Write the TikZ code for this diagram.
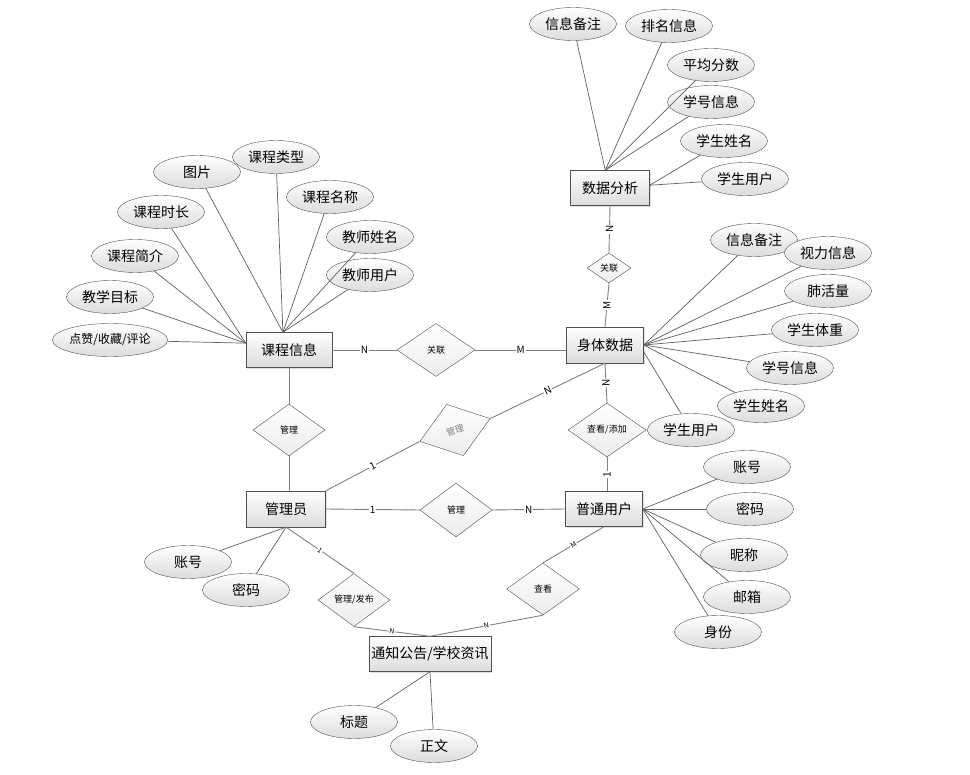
\documentclass[tikz,border=0pt]{standalone}
\usepackage{fontspec}
\setmainfont{Noto Sans CJK SC}
\usetikzlibrary{shapes.geometric,shadows}
\definecolor{EdgeGray}{RGB}{128,128,128}
\definecolor{AttrGray}{RGB}{95,95,95}
\definecolor{BorderGray}{RGB}{80,80,80}
\definecolor{ShadeGray}{RGB}{220,220,220}
\definecolor{DiamondGray}{RGB}{236,236,236}

\begin{document}
\begin{tikzpicture}[x=1pt,y=-1pt,
  entity/.style={draw=BorderGray,top color=white,bottom color=ShadeGray,
    minimum width=79pt,minimum height=35pt,inner sep=2pt,font=\fontsize{14}{16}\selectfont,
    drop shadow={shadow xshift=1.2pt,shadow yshift=-1.2pt,opacity=.25}},
  attr/.style={ellipse,draw=BorderGray,top color=white,bottom color=ShadeGray,
    minimum width=87pt,minimum height=33pt,inner sep=0pt,font=\fontsize{14}{16}\selectfont},
  rel/.style={diamond,draw=BorderGray,top color=white,bottom color=DiamondGray,
    minimum width=72pt,minimum height=53pt,inner sep=0pt,font=\fontsize{9}{10}\selectfont},
  link/.style={draw=EdgeGray,line width=0.9pt},
  attrlink/.style={draw=AttrGray,line width=0.7pt},
  card/.style={fill=white,inner sep=0.8pt,font=\fontsize{10}{10}\selectfont},
  smallcard/.style={card,font=\fontsize{7}{7}\selectfont}]
  \useasboundingbox (0,0) rectangle (970,775);

  % entities
  \node[entity] (sjfx) at (610,188) {数据分析};
  \node[entity,minimum width=86pt] (kcxx) at (289,350) {课程信息};
  \node[entity,minimum width=77pt,minimum height=36pt] (stsj) at (605,345) {身体数据};
  \node[entity,minimum height=36pt] (gly) at (286,509) {管理员};
  \node[entity,minimum width=77pt] (ptyh) at (604,509) {普通用户};
  \node[entity,minimum width=119pt] (tzgg) at (430,654) {通知公告/学校资讯};

  % relationships
  \node[rel,minimum width=44pt,minimum height=30pt] (glfx) at (609,268) {关联};
  \node[rel,minimum width=78pt] (glkc) at (436,350) {关联};
  \node[rel,minimum height=52pt] (glkg) at (289,430) {管理};
  \node[rel,minimum width=74pt,minimum height=54pt,rotate=18,text=gray] (glst) at (455,430) {管理};
  \node[rel,minimum height=54pt] (glpt) at (456,510) {管理};
  \node[rel,minimum width=78pt,minimum height=54pt] (cktj) at (607,430) {查看/添加};
  \node[rel] (glfb) at (354,600) {管理/发布};
  \node[rel,minimum width=73pt,minimum height=52pt] (ckgg) at (543,589) {查看};

  % attributes
  \node[attr] (fxbz) at (573,24) {信息备注};
  \node[attr] (fxpm) at (669,26) {排名信息};
  \node[attr] (fxpj) at (711,65) {平均分数};
  \node[attr] (fxxh) at (711,102) {学号信息};
  \node[attr] (fxxm) at (724,141) {学生姓名};
  \node[attr] (fxyh) at (745,179) {学生用户};

  \node[attr] (kctp) at (197,172) {图片};
  \node[attr] (kclx) at (276,157) {课程类型};
  \node[attr] (kcmc) at (330,197) {课程名称};
  \node[attr] (kcjx) at (370,237) {教师姓名};
  \node[attr] (kcjy) at (370,275) {教师用户};
  \node[attr] (kcsc) at (161,212) {课程时长};
  \node[attr] (kcjj) at (135,256) {课程简介};
  \node[attr] (kcmb) at (110,297) {教学目标};
  \node[attr,font=\fontsize{12}{14}\selectfont] (kcdz) at (110,340) {点赞/收藏/评论};

  \node[attr] (stbz) at (754,240) {信息备注};
  \node[attr] (stsl) at (828,253) {视力信息};
  \node[attr] (stfh) at (828,291) {肺活量};
  \node[attr] (sttz) at (815,330) {学生体重};
  \node[attr] (stxh) at (790,368) {学号信息};
  \node[attr] (stxm) at (761,406) {学生姓名};
  \node[attr] (styh) at (691,430) {学生用户};

  \node[attr] (glzh) at (188,562) {账号};
  \node[attr] (glmm) at (246,590) {密码};

  \node[attr] (ptzh) at (747,467) {账号};
  \node[attr] (ptmm) at (750,509) {密码};
  \node[attr] (ptnc) at (744,555) {昵称};
  \node[attr] (ptyx) at (747,597) {邮箱};
  \node[attr] (ptsf) at (718,632) {身份};

  \node[attr] (tzbt) at (354,722) {标题};
  \node[attr] (tzzw) at (434,746) {正文};

  % attribute lines
  \draw[attrlink] (fxbz) -- (sjfx.105);
  \draw[attrlink] (fxpm) -- (sjfx.105);
  \draw[attrlink] (fxpj) -- (sjfx.105);
  \draw[attrlink] (fxxh) -- (sjfx.105);
  \draw[attrlink] (fxxm) -- (sjfx.4);
  \draw[attrlink] (fxyh) -- (sjfx.4);

  \draw[attrlink] (kctp) -- (kcxx.109);
  \draw[attrlink] (kclx) -- (kcxx.109);
  \draw[attrlink] (kcmc) -- (kcxx.109);
  \draw[attrlink] (kcjx) -- (kcxx.109);
  \draw[attrlink] (kcjy) -- (kcxx.109);
  \draw[attrlink] (kcsc) -- (kcxx.171);
  \draw[attrlink] (kcjj) -- (kcxx.171);
  \draw[attrlink] (kcmb) -- (kcxx.171);
  \draw[attrlink] (kcdz) -- (kcxx.171);

  \draw[attrlink] (stbz) -- (stsj.east);
  \draw[attrlink] (stsl) -- (stsj.east);
  \draw[attrlink] (stfh) -- (stsj.east);
  \draw[attrlink] (sttz) -- (stsj.east);
  \draw[attrlink] (stxh) -- (stsj.east);
  \draw[attrlink] (stxm) -- (stsj.east);
  \draw[attrlink] (styh) -- (stsj.-10);

  \draw[attrlink] (glzh) -- (gly.south);
  \draw[attrlink] (glmm) -- (gly.south);

  \draw[attrlink] (ptzh) -- (ptyh.east);
  \draw[attrlink] (ptmm) -- (ptyh.east);
  \draw[attrlink] (ptnc) -- (ptyh.east);
  \draw[attrlink] (ptyx) -- (ptyh.east);
  \draw[attrlink] (ptsf) -- (ptyh.east);

  \draw[attrlink] (tzbt) -- (tzgg.south);
  \draw[attrlink] (tzzw) -- (tzgg.south);

  % relationship lines
  \draw[link] (sjfx.south) -- (glfx.north) node[midway,card,rotate=90] {N};
  \draw[link] (glfx.south) -- (stsj.north) node[midway,card,rotate=90] {M};
  \draw[link] (kcxx.east) -- (glkc.west) node[midway,card] {N};
  \draw[link] (glkc.east) -- (glkc.east -| stsj.west) node[midway,card] {M};
  \draw[link] (kcxx.south) -- (glkg.north);
  \draw[link] (glkg.south) -- (glkg.south |- gly.north);
  \draw[link] (gly.north east) -- (glst.west) node[midway,card,sloped] {1};
  \draw[link] (glst.east) -- (stsj.south) node[midway,card,sloped] {N};
  \draw[link] (stsj.south) -- (cktj.north) node[midway,card,rotate=90] {N};
  \draw[link] (cktj.south) -- (cktj.south |- ptyh.north) node[midway,card,rotate=90] {1};
  \draw[link] (gly.east) -- (glpt.west) node[midway,card] {1};
  \draw[link] (glpt.east) -- (ptyh.west) node[midway,card] {N};
  \draw[link] (gly.south) -- (glfb.north) node[midway,smallcard,sloped] {1};
  \draw[link] (glfb.south) -- (tzgg.north) node[midway,smallcard,sloped] {N};
  \draw[link] (ptyh.south) -- (ckgg.north) node[midway,smallcard,sloped] {M};
  \draw[link] (ckgg.south) -- (tzgg.north) node[midway,smallcard,sloped] {N};
\end{tikzpicture}
\end{document}
